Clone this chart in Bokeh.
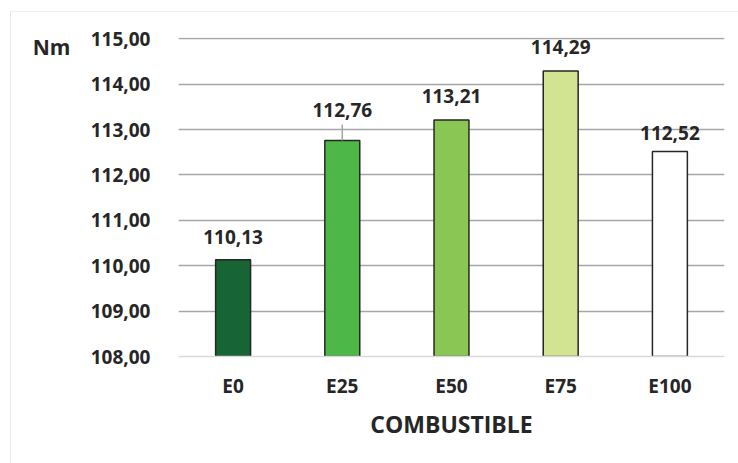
from bokeh.plotting import figure
from bokeh.models import (ColumnDataSource, FactorRange, FixedTicker, LabelSet,
                          LinearAxis, InlineStyleSheet)
from bokeh.core.properties import value
from bokeh.embed import file_html
from bokeh.resources import INLINE

# Torque per fuel blend
categories = ["E0", "E25", "E50", "E75", "E100"]
torque = [110.13, 112.76, 113.21, 114.29, 112.52]
y_ticks = [108, 109, 110, 111, 112, 113, 114, 115]
unit_label = "Nm"

# styling
bar_colors = ["#176534", "#4DB848", "#8AC653", "#D2E391", "#FFFFFF"]
label_gap = [16, 24, 17, 17, 11]   # px between bar top and value label baseline
FONT = "Open Sans"
TEXT = "#262626"

Y0, Y1 = 108, 115.03
FRAME_LEFT, FRAME_W = 178, 546
FRAME_TOP, FRAME_H = 37, 319
px_per_unit = FRAME_H / (Y1 - Y0)

def fmt(v):
    return f"{v:.2f}".replace(".", ",")

src = ColumnDataSource(dict(
    cat=categories,
    val=torque,
    color=bar_colors,
    label=[fmt(v) for v in torque],
    gap=label_gap,
))

p = figure(width=738, height=463, x_range=FactorRange(*categories, range_padding=0),
           y_range=(Y0, Y1), output_backend="svg", toolbar_location=None,
           min_border_left=FRAME_LEFT, min_border_right=738 - FRAME_LEFT - FRAME_W,
           min_border_top=FRAME_TOP, min_border_bottom=463 - FRAME_TOP - FRAME_H)
p.outline_line_color = None
p.background_fill_color = "white"
p.border_fill_color = "white"

p.xgrid.grid_line_color = None
p.ygrid.ticker = FixedTicker(ticks=y_ticks[1:])
p.ygrid.grid_line_color = "#A6A6A6"
p.ygrid.grid_line_width = 1.5

p.vbar(x="cat", top="val", bottom=Y0, width=0.32, fill_color="color",
       line_color="#262626", line_width=1.5, source=src)

# leader line from the E25 bar up towards its raised label
lead_px = 16
p.segment(x0=[categories[1]], x1=[categories[1]], y0=[torque[1]],
          y1=[torque[1] + lead_px / px_per_unit], line_color="#A6A6A6", line_width=1.5)

labels = LabelSet(x="cat", y="val", text="label", y_offset="gap", source=src,
                  text_align="center", text_baseline="alphabetic",
                  text_font=value(FONT), text_font_style="bold",
                  text_font_size="19px", text_color=TEXT)
p.add_layout(labels)

# y axis
p.yaxis.ticker = FixedTicker(ticks=y_ticks)
p.yaxis.major_label_overrides = {t: fmt(t) for t in y_ticks}
p.yaxis.axis_line_color = None
p.yaxis.major_tick_line_color = None
p.yaxis.minor_tick_line_color = None
p.yaxis.major_label_standoff = 22
p.yaxis.major_label_text_font = FONT
p.yaxis.major_label_text_font_style = "bold"
p.yaxis.major_label_text_font_size = "19px"
p.yaxis.major_label_text_color = TEXT

# unit name, set beside the top of the value axis
nm_pos = round(Y1 - 10 / px_per_unit, 2)
unit_axis = LinearAxis(ticker=FixedTicker(ticks=[nm_pos]),
                       major_label_overrides={nm_pos: unit_label},
                       axis_line_color=None, major_tick_line_color=None,
                       minor_tick_line_color=None, major_label_standoff=11,
                       major_label_text_font=FONT, major_label_text_font_style="bold",
                       major_label_text_font_size="21px", major_label_text_color=TEXT)
p.add_layout(unit_axis, "left")

# x axis
p.xaxis.axis_line_color = "#D9D9D9"
p.xaxis.axis_line_width = 1.5
p.xaxis.major_tick_line_color = None
p.xaxis.minor_tick_line_color = None
p.xaxis.major_label_standoff = 10
p.xaxis.major_label_text_font = FONT
p.xaxis.major_label_text_font_style = "bold"
p.xaxis.major_label_text_font_size = "19px"
p.xaxis.major_label_text_color = TEXT
p.xaxis.axis_label = "COMBUSTIBLE"
p.xaxis.axis_label_standoff = 6
p.xaxis.axis_label_text_font = FONT
p.xaxis.axis_label_text_font_style = "bold"
p.xaxis.axis_label_text_font_size = "23px"
p.xaxis.axis_label_text_color = TEXT

# faint chart border
p.stylesheets = [InlineStyleSheet(css="""
:host { overflow: hidden; }
:host::after {
  content: ""; position: absolute; left: 10px; top: 11px;
  width: 900px; height: 900px; pointer-events: none;
  border-left: 1.5px solid #DCE8F5; border-top: 1.5px solid #F0F0F0;
}
""")]

open("out.html", "w").write(file_html(p, INLINE))
